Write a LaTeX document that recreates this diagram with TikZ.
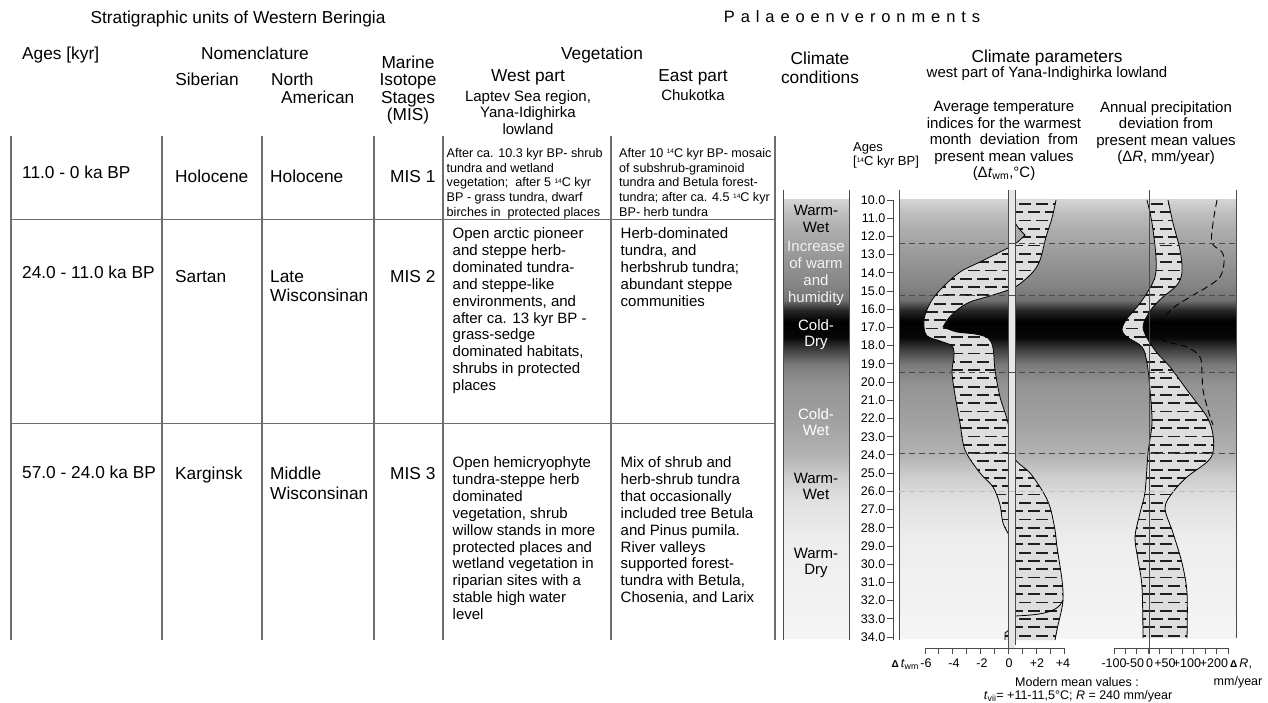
\documentclass[tikz,border=0pt]{standalone}
\usepackage{fontspec}
\setmainfont{Liberation Sans}
\usetikzlibrary{calc, positioning}

\definecolor{tl}{HTML}{6E6E6E}
\definecolor{cl}{HTML}{4A4A4A}
\definecolor{hf}{HTML}{DEDEDE}
\definecolor{hd}{HTML}{1E1E1E}
\definecolor{zb}{HTML}{E6E6E6}
\definecolor{wt}{HTML}{F2F2F2}

\newcommand{\hdfont}{\fontsize{17.3}{17.4}\selectfont}
\newcommand{\mdfont}{\fontsize{15}{16.9}\selectfont}
\newcommand{\mhfont}{\fontsize{15}{16.5}\selectfont}
\newcommand{\smfont}{\fontsize{12.6}{14.8}\selectfont}
\newcommand{\tkfont}{\fontsize{12.5}{14}\selectfont}
\newcommand{\radc}{\smash{\raisebox{0.55ex}{\fontsize{6.5}{7}\selectfont 14}}C}
\newcommand{\dtri}{{\fontsize{10}{12}\selectfont\textbf{Δ}}}

\pgfdeclareverticalshading{climgrad}{100bp}{
  color(0bp)=(black!4); color(25bp)=(black!4); color(29.3bp)=(black!5);
  color(36.2bp)=(black!7); color(40.8bp)=(black!12); color(43.6bp)=(black!20);
  color(45.9bp)=(black!30); color(49.9bp)=(black!37); color(53.9bp)=(black!42);
  color(56.2bp)=(black!52); color(57.9bp)=(black!75); color(59.3bp)=(black!97);
  color(61.1bp)=(black); color(62.4bp)=(black!85); color(63.6bp)=(black!55);
  color(65.3bp)=(black!48); color(68.7bp)=(black!40); color(71.6bp)=(black!32);
  color(73.6bp)=(black!25); color(75bp)=(black!17); color(100bp)=(black!17)}

\def\tL{plot[smooth, tension=0.55] coordinates {(1015,200) (1015,222) (1025,235)}
  -- plot[smooth, tension=0.55] coordinates {(1025,235) (1015,244) (1000,252) (980,262) (960,272) (943,287) (932,300) (925,315) (924,327) (927,336) (940,341) (952,346) (954,356) (952,372) (955,395) (960,423) (965,450) (980,473) (993,487) (1000,505) (1003,523) (1010,537) (1015,548)}
  -- (1015,625) -- (1005,633) -- (1005,640)}
\def\tR{-- plot[smooth, tension=0.55] coordinates {(1055,640) (1058,625) (1060,617) (1063,600) (1062,580) (1057,547) (1055,530) (1050,507) (1043,492) (1030,473) (1013,456) (1008,423) (1000,397) (995,370) (993,348) (988,338) (975,334) (957,332) (943,327)}
  -- plot[smooth, tension=0.55] coordinates {(943,327) (948,319) (957,310) (970,302) (993,295) (1015,287) (1032,273) (1040,260) (1046,237) (1052,218) (1056,200)}}
\def\pL{plot[smooth, tension=0.55] coordinates {(1147,200) (1152,223) (1156,257) (1155,277) (1147,293) (1137,307) (1126,320) (1122,330) (1127,337) (1142,347) (1147,363) (1150,390) (1152,423) (1148,453) (1145,492) (1140,513) (1135,537) (1138,560) (1142,587) (1143,638)}}
\def\pR{-- plot[smooth, tension=0.55] coordinates {(1187,638) (1187,593) (1182,563) (1173,533) (1165,508) (1173,492) (1187,477) (1207,462) (1213,452) (1213,435) (1207,417) (1187,390) (1170,367) (1157,353) (1147,338) (1143,327) (1146,318) (1153,307) (1163,297) (1177,285) (1182,272) (1180,250) (1173,223) (1168,200)}}

\begin{document}
\begin{tikzpicture}[x=1pt, y=-1pt,
    hdr/.style={inner sep=0pt, font=\hdfont},
    vegcell/.style={inner sep=0pt, font=\mdfont, align=left, anchor=north west},
    smcell/.style={inner sep=0pt, font=\smfont, align=left, anchor=north west},
    stripcell/.style={inner sep=0pt, font=\mdfont, align=center, anchor=north},
    ticklbl/.style={inner sep=0pt, font=\tkfont},
    tabrule/.style={draw=tl, line width=1.2pt},
    crule/.style={draw=cl, line width=0.9pt},
    sepline/.style={draw=cl, line width=0.9pt, dash pattern=on 6pt off 4pt}]
	\fill[white] (0,0) rectangle (1268,703);
	\useasboundingbox (0,0) rectangle (1268,703);
	
	\node[hdr, anchor=base] (strat) at (238,24) {Stratigraphic units of Western Beringia};
	\node[hdr, font=\fontsize{16.5}{17}\selectfont, anchor=base] (palaeo) at (852,23) {{\spaceskip=5.9pt\relax P a l a e o e n v e r o n m e n t s}};
	
	\node[hdr, anchor=base west] (ages) at (22,60) {Ages [kyr]};
	\node[hdr, anchor=base] (nomen) at (255,60) {Nomenclature};
	\node[hdr, anchor=base] (siber) at (207,86) {Siberian};
	\node[hdr, anchor=base west] (north) at (271,86) {North};
	\node[hdr, anchor=base west] (amer) at (281,104) {American};
	\node[hdr, anchor=north, align=center] (mis) at (408,55.6) {Marine\\Isotope\\Stages\\(MIS)};
	\node[hdr, anchor=base] (veg) at (602,60) {Vegetation};
	\node[hdr, anchor=base] (westp) at (528,82) {West part};
	\node[inner sep=0pt, font=\mhfont, anchor=north, align=center] (laptev) at (528,90) {Laptev Sea region,\\Yana-Idighirka\\lowland};
	\node[hdr, anchor=base] (eastp) at (693,82) {East part};
	\node[inner sep=0pt, font=\mhfont, anchor=base] (chuk) at (693,101) {Chukotka};
	
	\node[hdr, anchor=base] (clima) at (820,65) {Climate};
	\node[hdr, anchor=base] (climb) at (820,84) {conditions};
	\node[hdr, anchor=base] (param) at (1047,62.5) {Climate parameters};
	\node[inner sep=0pt, font=\mhfont, anchor=base] (yana) at (1047,78) {west part of Yana-Indighirka lowland};
	\node[inner sep=0pt, font=\mhfont, anchor=north, align=center] (temphd) at (1004,101) {Average temperature\\indices for the warmest\\month~ deviation~ from\\present mean values\\(Δ\textit{t}\textsubscript{wm},°C)};
	\node[inner sep=0pt, font=\mhfont, anchor=north, align=center] (prechd) at (1166,101) {Annual precipitation\\deviation from\\present mean values\\(Δ\textit{R}, mm/year)};
	\node[ticklbl, font=\fontsize{13}{14}\selectfont, anchor=base west] (agehd) at (853,152) {Ages};
	\node[ticklbl, font=\fontsize{13}{14}\selectfont, anchor=base west] (agehdb) at (853,166) {[\radc{} kyr BP]};
	
	\foreach \x in {11,162,262,374,443,611,775}
		\draw[tabrule] (\x,136) -- (\x,640);
	\foreach \y in {219.5,423.5}
		\draw[tabrule] (11,\y) -- (775,\y);
	
	\node[hdr, anchor=base west] (r1age) at (22,179) {11.0 - 0 ka BP};
	\node[hdr, anchor=base west] (r1sib) at (175,183) {Holocene};
	\node[hdr, anchor=base west] (r1na) at (270,183) {Holocene};
	\node[hdr, anchor=base west] (r1mis) at (390,183) {MIS 1};
	\node[smcell] (r1west) at (446.5,148) {After ca. 10.3 kyr BP- shrub\\tundra and wetland\\vegetation;~ after 5 \radc{} kyr\\BP - grass tundra, dwarf\\birches in~ protected places};
	\node[smcell] (r1east) at (619,148) {After 10 \radc{} kyr BP- mosaic\\of subshrub-graminoid\\tundra and Betula forest-\\tundra; after ca. 4.5 \radc{} kyr\\BP- herb tundra};
	
	\node[hdr, anchor=base west] (r2age) at (22,278) {24.0 - 11.0 ka BP};
	\node[hdr, anchor=base west] (r2sib) at (175,282) {Sartan};
	\node[hdr, anchor=base west] (r2na) at (270,282) {Late};
	\node[hdr, anchor=base west] (r2nb) at (270,301) {Wisconsinan};
	\node[hdr, anchor=base west] (r2mis) at (390,282) {MIS 2};
	\node[vegcell] (r2west) at (452.5,227.5) {Open arctic pioneer\\and steppe herb-\\dominated tundra-\\and steppe-like\\environments, and\\after ca. 13 kyr BP -\\grass-sedge\\dominated habitats,\\shrubs in protected\\places};
	\node[vegcell] (r2east) at (620.5,227.5) {Herb-dominated\\tundra, and\\herbshrub tundra;\\abundant steppe\\communities};
	
	\node[hdr, anchor=base west] (r3age) at (22,478) {57.0 - 24.0 ka BP};
	\node[hdr, anchor=base west] (r3sib) at (175,479.5) {Karginsk};
	\node[hdr, anchor=base west] (r3na) at (270,479.5) {Middle};
	\node[hdr, anchor=base west] (r3nb) at (270,499.5) {Wisconsinan};
	\node[hdr, anchor=base west] (r3mis) at (390,479.5) {MIS 3};
	\node[vegcell] (r3west) at (452.5,456.5) {Open hemicryophyte\\tundra-steppe herb\\dominated\\vegetation, shrub\\willow stands in more\\protected places and\\wetland vegetation in\\riparian sites with a\\stable high water\\level};
	\node[vegcell] (r3east) at (620.5,456.5) {Mix of shrub and\\herb-shrub tundra\\that occasionally\\included tree Betula\\and Pinus pumila.\\River valleys\\supported forest-\\tundra with Betula,\\Chosenia, and Larix};
	
	\shade[shading=climgrad] (783,200) rectangle (849,638);
	\shade[shading=climgrad] (899,200) rectangle (1236,638);
	
	\fill[hf] \tL \tR -- cycle;
	\fill[hf] \pL \pR -- cycle;
	\begin{scope}
		\clip \tL \tR -- cycle;
		\foreach \y in {204,220.6,...,640}
			\draw[hd, line width=1.8pt, dash pattern=on 12pt off 5pt] (900,\y) -- (1240,\y);
		\foreach \y in {212.3,228.9,...,640}
			\draw[hd, line width=1.8pt, dash pattern=on 12pt off 5pt, dash phase=8.5pt] (900,\y) -- (1240,\y);
	\end{scope}
	\begin{scope}
		\clip \pL \pR -- cycle;
		\foreach \y in {204,220.6,...,640}
			\draw[hd, line width=1.8pt, dash pattern=on 12pt off 5pt] (1100,\y) -- (1240,\y);
		\foreach \y in {212.3,228.9,...,640}
			\draw[hd, line width=1.8pt, dash pattern=on 12pt off 5pt, dash phase=8.5pt] (1100,\y) -- (1240,\y);
	\end{scope}
	\draw[black, line width=0.8pt] \tL;
	\draw[black, line width=0.8pt] (1055,640) \tR;
	\draw[black, line width=0.8pt] (1063,600) .. controls (1058,614) and (1035,615) .. (1015,616);
	\draw[black, line width=0.8pt] \pL;
	\draw[black, line width=0.8pt] (1187,638) \pR;
	\draw[black, line width=0.9pt, dash pattern=on 7pt off 4pt] plot[smooth, tension=0.55] coordinates {(1217,200) (1213,223) (1212,243) (1222,252) (1224,263) (1220,277) (1207,287) (1190,297) (1173,308) (1162,320) (1157,327) (1160,337) (1167,342) (1187,347) (1200,357) (1202,373) (1203,390) (1208,410) (1213,425)};
	
	\fill[zb] (1008,190) rectangle (1015,648);
	\draw[crule] (1008,190) -- (1008,654);
	\draw[crule] (1015,190) -- (1015,645);
	\draw[crule] (1149,190) -- (1149,654);
	\foreach \x in {783,849,899}
		\draw[crule] (\x,190) -- (\x,640);
	\draw[crule] (893,200) -- (893,640);
	\draw[crule] (1236,190) -- (1236,638);
	
	\foreach \y in {243,295,372,453.5}
		\draw[sepline] (899,\y) -- (1236,\y);
	\draw[sepline, draw=black!25] (899,491) -- (1236,491);
	
	\foreach \a [count=\k from 0] in {10,...,34} {
		\draw[crule] (887,{200+18.21*\k}) -- (893,{200+18.21*\k});
		\node[ticklbl, anchor=east] (age\a) at (885.5,{200+18.21*\k}) {\a.0};
	}
	
	\node[stripcell] (ww1) at (816,205.2) {Warm-\\Wet};
	\node[stripcell, text=wt] (incr) at (816,241.2) {Increase\\of warm\\and\\humidity};
	\node[stripcell, text=white] (cd) at (816,319) {Cold-\\Dry};
	\node[stripcell, text=white] (cw) at (816,408) {Cold-\\Wet};
	\node[stripcell] (ww2) at (816,472.5) {Warm-\\Wet};
	\node[stripcell] (wd) at (816,547.5) {Warm-\\Dry};
	
	\draw[crule] (925,648) -- (1064,648);
	\foreach \k in {0,...,10}
		\draw[crule] ({925+13.9*\k},648) -- ++(0,6);
	\foreach \v/\x in {-6/926,-4/954,-2/982,0/1009,+2/1037,+4/1063}
		\node[ticklbl, anchor=base] (tw\x) at (\x,667.5) {\v};
	\node[ticklbl, anchor=base east] (twlbl) at (919,667.5) {\dtri\,\textit{t}\textsubscript{wm}};
	
	\draw[crule] (1114,648) -- (1228,648);
	\foreach \k in {0,...,10}
		\draw[crule] ({1114+11.4*\k},648) -- ++(0,6);
	\foreach \v/\x [count=\i] in {-100/1114,-50/1135,0/1149.5,+50/1165,+100/1187,+200/1214}
		\node[ticklbl, anchor=base] (pr\i) at (\x,667.5) {\v};
	\node[ticklbl, anchor=base west] (prlbl) at (1230,667.5) {\dtri\,\textit{R},};
	\node[ticklbl, anchor=base] (prunit) at (1238,685) {mm/year};
	
	\node[ticklbl, anchor=base] (modern) at (1077,686) {Modern mean values :};
	\node[ticklbl, anchor=base] (modval) at (1078,699) {\textit{t}\textsubscript{vii}= +11-11,5°C; \textit{R} = 240 mm/year};
\end{tikzpicture}
\end{document}
